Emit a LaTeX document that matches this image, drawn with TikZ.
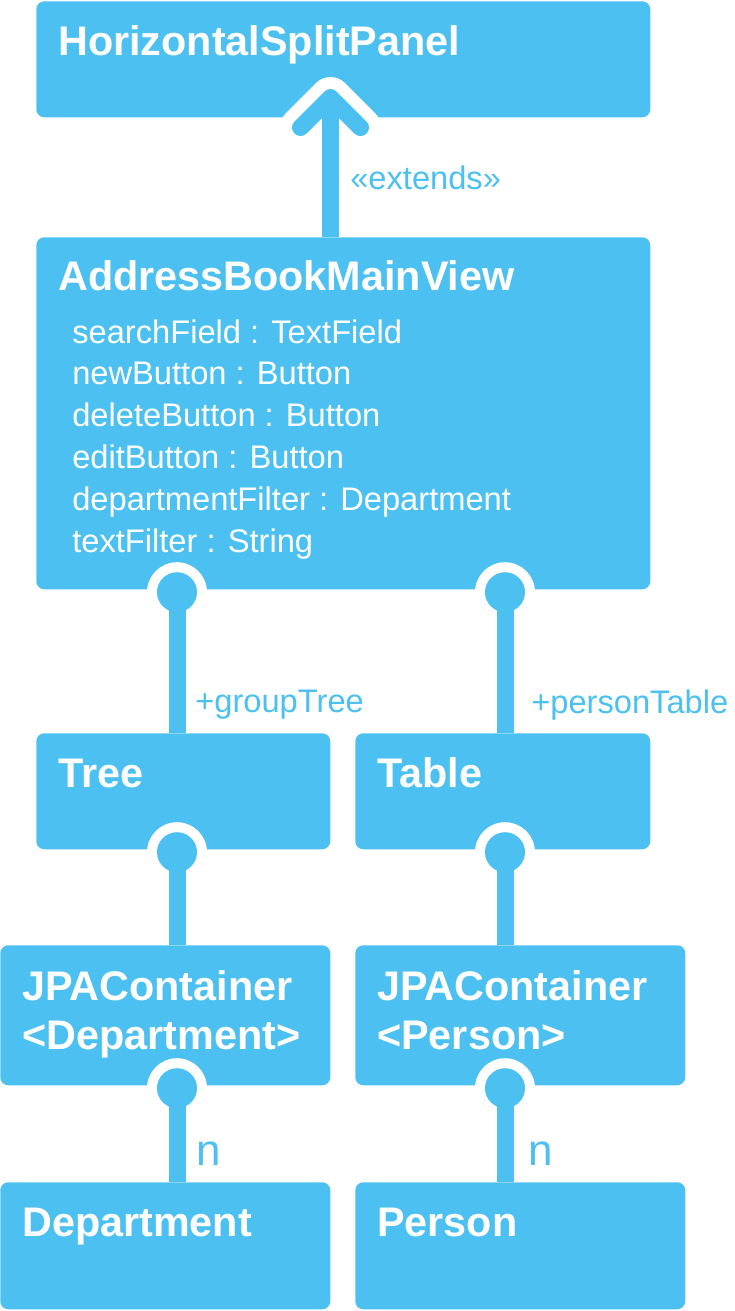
\documentclass[tikz,border=0pt]{standalone}
\usepackage{fontspec}
\setmainfont{Liberation Sans}
\usetikzlibrary{positioning}
\definecolor{umlblue}{RGB}{76,193,241}

\tikzset{
	box/.style={fill=umlblue, rounded corners=6pt, inner sep=0pt, anchor=north west},
	title/.style={anchor=base west, text=white, inner sep=0pt, font=\fontsize{31}{37}\selectfont\bfseries},
	attr/.style={anchor=base west, text=white, inner sep=0pt, font=\fontsize{24.5}{31}\selectfont},
	role/.style={anchor=base west, text=umlblue, inner sep=0pt, font=\fontsize{24.5}{31}\selectfont},
	mult/.style={anchor=base west, text=umlblue, inner sep=0pt, font=\fontsize{33}{40}\selectfont},
	link/.style={draw=umlblue, line width=12.75pt},
}

\begin{document}
\begin{tikzpicture}[x=0.75pt, y=-0.75pt]
		\useasboundingbox (0,0) rectangle (735,1311);

		% classes
		\node[box, minimum width=460.5pt, minimum height=87pt] (hsp) at (36,1) {};
		\node[box, minimum width=460.5pt, minimum height=264pt] (amv) at (36,237) {};
		\node[box, minimum width=220.5pt, minimum height=87pt] (tree) at (36,733) {};
		\node[box, minimum width=221.25pt, minimum height=87pt] (table) at (355,733) {};
		\node[box, minimum width=247.5pt, minimum height=105pt] (jpad) at (0,945) {};
		\node[box, minimum width=247.5pt, minimum height=105pt] (jpap) at (355,945) {};
		\node[box, minimum width=247.5pt, minimum height=95.25pt] (dept) at (0,1182) {};
		\node[box, minimum width=247.5pt, minimum height=95.25pt] (person) at (355,1182) {};

		\node[title] (hsptitle) at (58,55) {HorizontalSplitPanel};
		\node[title] (amvtitle) at (58,290) {AddressBookMainView};
		\node[title] (treetitle) at (58,787) {Tree};
		\node[title] (tabletitle) at (377,787) {Table};
		\node[title] (jpadtitle) at (22,1000) {JPAContainer};
		\node[title] (jpadtype) at (22,1049) {<Department>};
		\node[title] (jpaptitle) at (377,1000) {JPAContainer};
		\node[title] (jpaptype) at (377,1049) {<Person>};
		\node[title] (depttitle) at (22,1236) {Department};
		\node[title] (persontitle) at (377,1236) {Person};

		% attributes
		\foreach \txt [count=\i from 0] in {searchField : TextField, newButton : Button,
			deleteButton : Button, editButton : Button,
			departmentFilter : Department, textFilter : String}
			\node[attr] (attr\i) at (72,343+41.8*\i) {\txt};

		% columns of the connectors
		\coordinate (ecol) at (330.5,0);
		\coordinate (lcol) at (177,0);
		\coordinate (rcol) at (505,0);

		% extends
		\coordinate (tip) at ([yshift=15pt]hsp.south -| ecol);
		\draw[white, line width=30.75pt, line cap=round, line join=round] (tip) ++(-30,30) -- (tip) -- ++(30,30);
		\draw[link] (amv.north -| ecol) -- (tip);
		\draw[link, line cap=round, line join=round] (tip) ++(-30,30) -- (tip) -- ++(30,30);

		% compositions
		\foreach \a/\b/\c in {amv/tree/lcol, amv/table/rcol, tree/jpad/lcol,
			table/jpap/rcol, jpad/dept/lcol, jpap/person/rcol} {
			\fill[white] ([yshift=-2pt]\a.south -| \c) circle[radius=22.5pt];
			\draw[link] ([yshift=-2pt]\a.south -| \c) -- (\b.north -| \c);
			\fill[umlblue] ([yshift=-2pt]\a.south -| \c) circle[radius=15pt];
		}

		% labels
		\node[role] (extlabel) at (350,189) {«extends»};
		\node[role] (treelabel) at (195,712) {+groupTree};
		\node[role] (tablelabel) at (531,713) {+personTable};
		\node[mult] (deptmult) at (196,1165) {n};
		\node[mult] (personmult) at (528,1165) {n};
	\end{tikzpicture}
\end{document}
